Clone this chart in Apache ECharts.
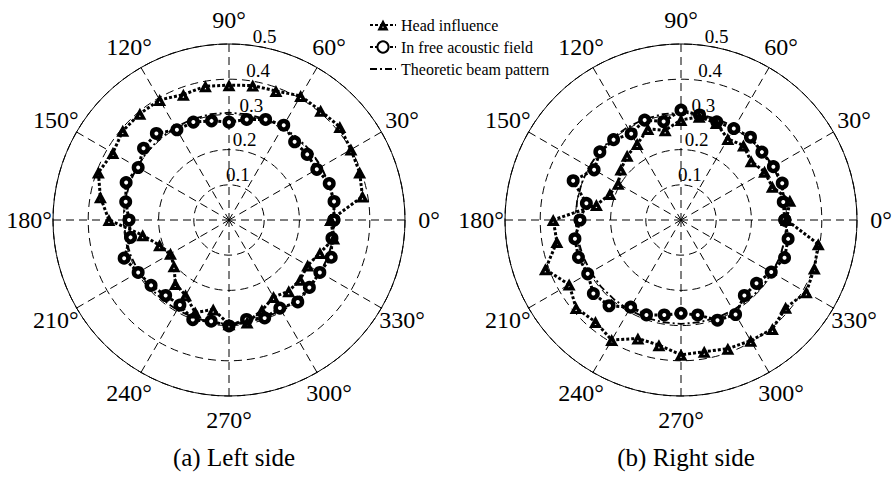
<!DOCTYPE html>
<html>
<head>
<meta charset="utf-8">
<script src="https://cdn.jsdelivr.net/npm/echarts@6/dist/echarts.min.js"></script>
<style>
html,body{margin:0;padding:0;background:#fff;}
#chart{width:894px;height:478px;}
#chart svg text{font-family:'Liberation Serif', 'Times New Roman', serif !important;}
#info{position:absolute;left:0;top:0;width:10px;height:10px;overflow:hidden;color:transparent;font:9px monospace;}
</style>
</head>
<body>
<div id="chart"></div>
<div id="info"></div>
<script>
// ---- data ----
const angles = [0,10,20,30,40,50,60,70,80,90,100,110,120,130,140,150,160,170,180,190,200,210,220,230,240,250,260,270,280,290,300,310,320,330,340,350];

const leftHead = [0.289,0.385,0.395,0.400,0.411,0.405,0.407,0.390,0.388,0.383,0.386,0.379,0.394,0.394,0.394,0.381,0.395,0.371,0.341,0.249,0.210,0.192,0.204,0.237,0.247,0.280,0.258,0.296,0.296,0.273,0.253,0.264,0.264,0.258,0.275,0.302];
const leftFree = [0.298,0.303,0.303,0.288,0.290,0.290,0.311,0.304,0.290,0.278,0.286,0.296,0.296,0.321,0.317,0.298,0.311,0.298,0.284,0.284,0.317,0.298,0.289,0.280,0.279,0.301,0.292,0.301,0.287,0.296,0.289,0.304,0.298,0.298,0.309,0.297];
const rightHead = [0.300,0.314,0.276,0.274,0.260,0.276,0.266,0.293,0.298,0.284,0.259,0.275,0.249,0.238,0.223,0.206,0.215,0.244,0.363,0.358,0.410,0.367,0.389,0.378,0.394,0.358,0.361,0.383,0.380,0.389,0.396,0.404,0.388,0.411,0.403,0.396];
const rightFree = [0.295,0.295,0.306,0.303,0.300,0.307,0.300,0.297,0.303,0.312,0.284,0.302,0.283,0.298,0.301,0.285,0.326,0.273,0.287,0.306,0.310,0.306,0.325,0.318,0.286,0.287,0.274,0.265,0.274,0.303,0.310,0.280,0.280,0.296,0.313,0.309];
const theoretic = [0.300,0.301,0.302,0.303,0.304,0.304,0.305,0.305,0.305,0.305,0.305,0.305,0.304,0.304,0.303,0.302,0.301,0.300,0.299,0.298,0.297,0.296,0.296,0.295,0.295,0.295,0.295,0.295,0.295,0.296,0.296,0.297,0.298,0.299,0.300,0.300];

const angleTicks = [0,30,60,90,120,150,180,210,240,270,300,330];
const radiusTicks = [0.1,0.2,0.3,0.4,0.5];
const seriesNames = ['Head influence','In free acoustic field','Theoretic beam pattern'];
const panelTitles = ['(a) Left side','(b) Right side'];

// ---- helpers ----
function closedLoop(values){
  const pts = values.map((v,i)=>[v, angles[i]]);
  pts.push([values[0], 360]);
  return pts;
}
const FONT = 'Liberation Serif';
const gridDash = {color:'#000', width:1, type:[8,5]};

const centers = [[229,220],[681,220]];
const panels = [
  {head:leftHead, free:leftFree, theo:theoretic},
  {head:rightHead, free:rightFree, theo:theoretic}
];

const polar = [], angleAxis = [], radiusAxis = [], series = [];
panels.forEach((p,i)=>{
  polar.push({center:centers[i], radius:176});
  angleAxis.push({
    polarIndex:i, type:'value', min:0, max:360, interval:30,
    startAngle:0, clockwise:false,
    axisLine:{show:true, lineStyle:{color:'#000', width:1}},
    axisTick:{show:false}, axisLabel:{show:false},
    splitLine:{show:true, lineStyle:gridDash}
  });
  radiusAxis.push({
    polarIndex:i, type:'value', min:0, max:0.5, interval:0.1,
    axisLine:{show:false}, axisTick:{show:false}, axisLabel:{show:false},
    splitLine:{show:true, lineStyle:gridDash}
  });
  series.push({
    name:seriesNames[2], type:'line', coordinateSystem:'polar', polarIndex:i,
    data:closedLoop(p.theo), symbol:'none', showSymbol:false,
    lineStyle:{color:'#000', width:1.8, type:[7,3,2,3]},
    itemStyle:{color:'rgba(0,0,0,0)', borderWidth:0},
    z:2
  });
  series.push({
    name:seriesNames[1], type:'line', coordinateSystem:'polar', polarIndex:i,
    data:closedLoop(p.free), symbol:'circle', symbolSize:8.5,
    itemStyle:{color:'#fff', borderColor:'#000', borderWidth:4.5},
    lineStyle:{color:'#000', width:3, type:[3,2]},
    z:3
  });
  series.push({
    name:seriesNames[0], type:'line', coordinateSystem:'polar', polarIndex:i,
    data:closedLoop(p.head), symbol:'path://M0,10 L5,0 L10,10 Z M5,6 L4.3,7.5 L5.7,7.5 Z', symbolSize:[13,12],
    itemStyle:{color:'#000'},
    lineStyle:{color:'#000', width:3, type:[3,2]},
    z:4
  });
  // angle tick labels placed through the polar scale
  series.push({
    type:'scatter', coordinateSystem:'polar', polarIndex:i, silent:true, clip:false,
    symbolSize:1, itemStyle:{color:'rgba(0,0,0,0)', opacity:1}, legendHoverLink:false,
    data:angleTicks.map(a=>({value:[0.568, a], name:a+'°'})),
    label:{show:true, position:'inside', formatter:'{t|{b}}', opacity:1,
      rich:{t:{color:'#000', fontFamily:FONT, fontSize:24}}},
    z:5
  });
  // radius tick labels
  series.push({
    type:'scatter', coordinateSystem:'polar', polarIndex:i, silent:true, clip:false,
    symbolSize:1, itemStyle:{color:'rgba(0,0,0,0)', opacity:1}, legendHoverLink:false,
    data:radiusTicks.map(r=>({value:[r+0.032, 79], name:r.toFixed(1)})),
    label:{show:true, position:'inside', formatter:'{t|{b}}', opacity:1,
      rich:{t:{color:'#000', fontFamily:FONT, fontSize:19}}},
    z:5
  });
});

const chart = echarts.init(document.getElementById('chart'), null, {renderer:'svg'});
chart.setOption({
  animation:false,
  backgroundColor:'#fff',
  textStyle:{fontFamily:FONT},
  title: panelTitles.map((t,i)=>({
    text:t, left:centers[i][0], top:440, textAlign:'center',
    textStyle:{fontFamily:FONT, fontSize:25, fontWeight:'normal', color:'#000'}
  })),
  legend:{
    data:seriesNames, orient:'vertical', left:364, top:12,
    itemWidth:26, itemHeight:14, itemGap:6,
    textStyle:{fontFamily:FONT, fontSize:16, color:'#000'}
  },
  polar, angleAxis, radiusAxis, series
});
// count rendered texts (kept invisible)
document.getElementById('info').textContent = String(document.querySelectorAll('#chart text').length);
</script>
</body>
</html>
